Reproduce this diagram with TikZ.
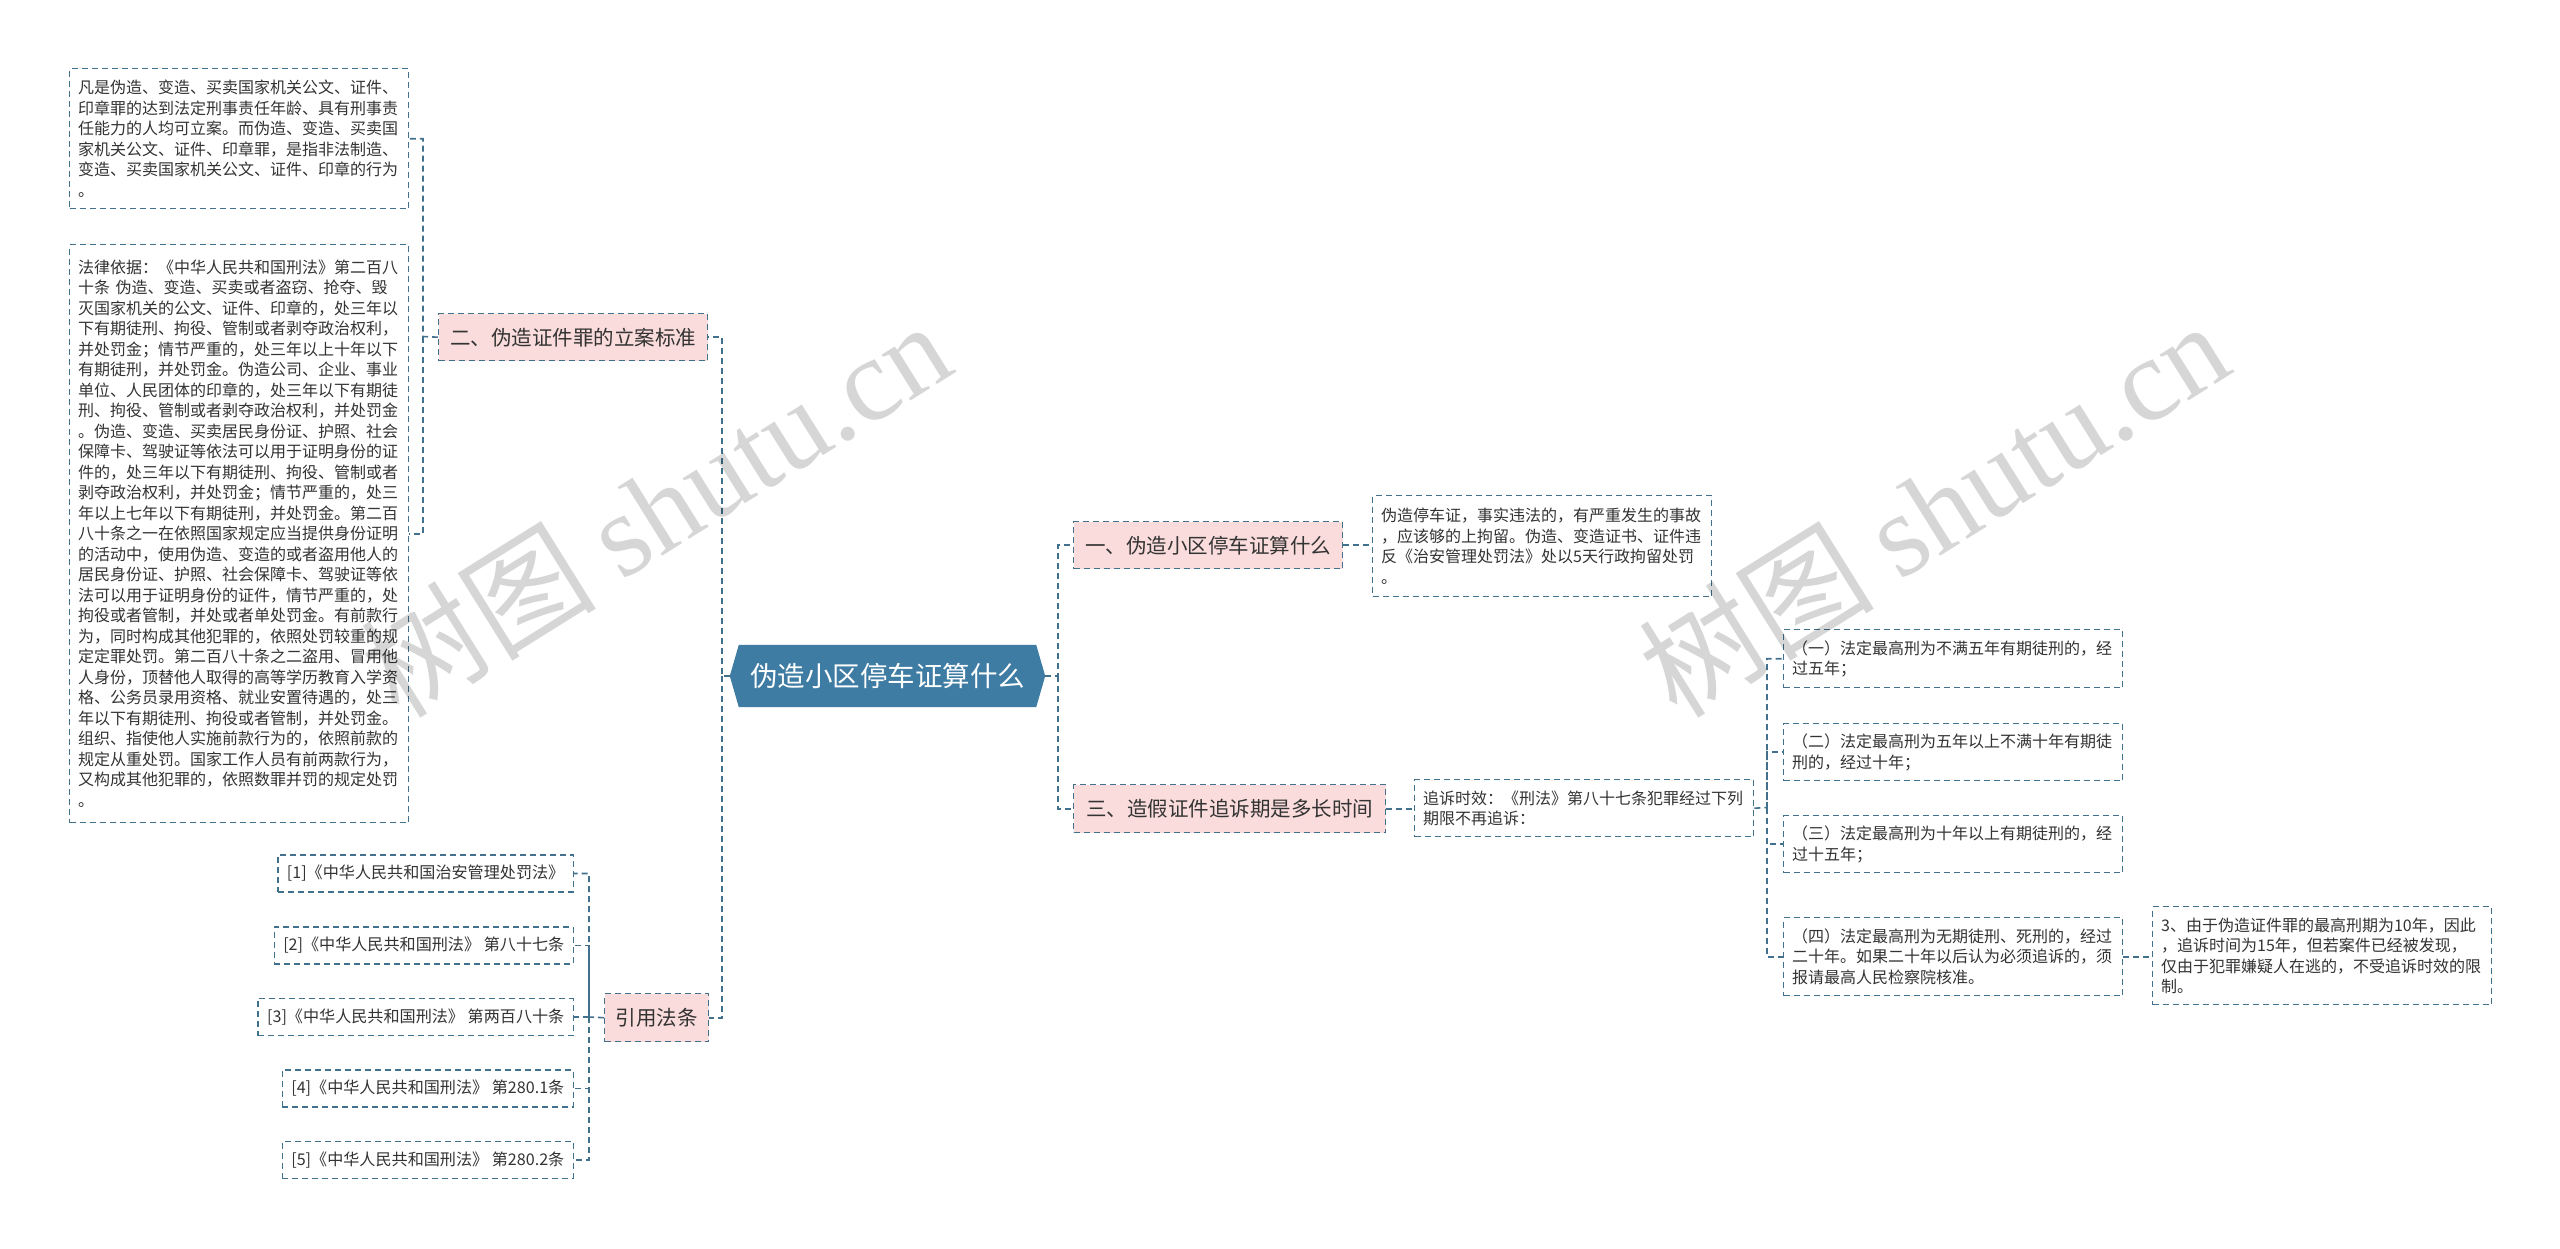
\documentclass[tikz,border=0pt]{standalone}
\usepackage{fontspec}
\setmainfont{Noto Sans CJK SC}
\newfontfamily\wmfont{Liberation Serif}
\definecolor{lineblue}{HTML}{41718C}
\definecolor{pinkfill}{HTML}{F9DCDB}
\definecolor{hexblue}{HTML}{3E7CA3}
\definecolor{txt}{HTML}{333333}
\pgfdeclarelayer{pagebg}
\pgfdeclarelayer{shapes}
\pgfsetlayers{pagebg,shapes,main}
\tikzset{
  conn/.style={draw=lineblue, line width=1.6pt, dash pattern=on 6pt off 4pt},
  mainconn/.style={conn, line width=2.2pt},
  tbox/.style={draw=lineblue, line width=1.4pt, dash pattern=on 6pt off 4pt, fill=white,
    text=txt, align=left, text width=322pt, inner xsep=8.5pt, inner ysep=0pt,
    anchor=north west, font=\fontsize{16}{20.5}\selectfont},
  lvl/.style={draw=lineblue, line width=1.4pt, dash pattern=on 6pt off 4pt, fill=pinkfill,
    text=txt, inner sep=0pt, anchor=north west, font=\fontsize{20.5}{24}\selectfont},
  refbox/.style={draw=lineblue, line width=1.4pt, dash pattern=on 6pt off 4pt, fill=white,
    text=txt, inner xsep=9pt, inner ysep=0pt, minimum height=37pt, anchor=east,
    font=\fontsize{16.1}{20}\selectfont},
  hexnode/.style={minimum width=315pt, minimum height=62pt, inner sep=0pt, text=white,
    font=\fontsize{27.5}{30}\selectfont},
  wm/.style={text=black, text opacity=0.16, inner sep=0pt, font=\fontsize{118}{120}\selectfont}
}
\begin{document}
\begin{tikzpicture}[x=1pt,y=-1pt]
\begin{pgfonlayer}{pagebg}
\fill[white] (0,0) rectangle (2560,1248);
\end{pgfonlayer}
\useasboundingbox (0,0) rectangle (2560,1248);

% central node
\node[hexnode] (hex) at (887.5,676) {伪造小区停车证算什么};
\begin{pgfonlayer}{shapes}
\fill[hexblue] (hex.west) -- ([xshift=9pt]hex.north west) -- ([xshift=-9pt]hex.north east)
  -- (hex.east) -- ([xshift=-9pt]hex.south east) -- ([xshift=9pt]hex.south west) -- cycle;
\end{pgfonlayer}

% level 1 nodes
\node[lvl, minimum width=269pt, minimum height=47pt] (n2) at (438,313) {二、伪造证件罪的立案标准};
\node[lvl, minimum width=104pt, minimum height=48pt] (yin) at (604,993) {引用法条};
\node[lvl, minimum width=269pt, minimum height=47pt] (n1) at (1073,521) {一、伪造小区停车证算什么};
\node[lvl, minimum width=312pt, minimum height=48pt] (n3) at (1073,784) {三、造假证件追诉期是多长时间};

% left text boxes
\node[tbox, minimum height=140pt] (b1) at (69,68) {凡是伪造、变造、买卖国家机关公文、证件、\\
印章罪的达到法定刑事责任年龄、具有刑事责\\
任能力的人均可立案。而伪造、变造、买卖国\\
家机关公文、证件、印章罪，是指非法制造、\\
变造、买卖国家机关公文、证件、印章的行为\\
。};
\node[tbox, minimum height=578pt] (b2) at (69,244) {法律依据：《中华人民共和国刑法》第二百八\\
十条 伪造、变造、买卖或者盗窃、抢夺、毁\\
灭国家机关的公文、证件、印章的，处三年以\\
下有期徒刑、拘役、管制或者剥夺政治权利，\\
并处罚金；情节严重的，处三年以上十年以下\\
有期徒刑，并处罚金。伪造公司、企业、事业\\
单位、人民团体的印章的，处三年以下有期徒\\
刑、拘役、管制或者剥夺政治权利，并处罚金\\
。伪造、变造、买卖居民身份证、护照、社会\\
保障卡、驾驶证等依法可以用于证明身份的证\\
件的，处三年以下有期徒刑、拘役、管制或者\\
剥夺政治权利，并处罚金；情节严重的，处三\\
年以上七年以下有期徒刑，并处罚金。第二百\\
八十条之一在依照国家规定应当提供身份证明\\
的活动中，使用伪造、变造的或者盗用他人的\\
居民身份证、护照、社会保障卡、驾驶证等依\\
法可以用于证明身份的证件，情节严重的，处\\
拘役或者管制，并处或者单处罚金。有前款行\\
为，同时构成其他犯罪的，依照处罚较重的规\\
定定罪处罚。第二百八十条之二盗用、冒用他\\
人身份，顶替他人取得的高等学历教育入学资\\
格、公务员录用资格、就业安置待遇的，处三\\
年以下有期徒刑、拘役或者管制，并处罚金。\\
组织、指使他人实施前款行为的，依照前款的\\
规定从重处罚。国家工作人员有前两款行为，\\
又构成其他犯罪的，依照数罪并罚的规定处罚\\
。};

% references
\node[refbox] (r1) at (574,873.5) {[1]《中华人民共和国治安管理处罚法》};
\node[refbox] (r2) at (574,945.5) {[2]《中华人民共和国刑法》 第八十七条};
\node[refbox] (r3) at (574,1017) {[3]《中华人民共和国刑法》 第两百八十条};
\node[refbox] (r4) at (574,1088.5) {[4]《中华人民共和国刑法》 第280.1条};
\node[refbox] (r5) at (574,1160) {[5]《中华人民共和国刑法》 第280.2条};

% right text boxes
\node[tbox, minimum height=101pt] (c1) at (1372,495) {伪造停车证，事实违法的，有严重发生的事故\\
，应该够的上拘留。伪造、变造证书、证件违\\
反《治安管理处罚法》处以5天行政拘留处罚\\
。};
\node[tbox, minimum height=57pt] (c3) at (1414,779) {追诉时效：《刑法》第八十七条犯罪经过下列\\
期限不再追诉：};
\node[tbox, minimum height=58pt] (d1) at (1783,629) {（一）法定最高刑为不满五年有期徒刑的，经\\
过五年；};
\node[tbox, minimum height=57pt] (d2) at (1783,723) {（二）法定最高刑为五年以上不满十年有期徒\\
刑的，经过十年；};
\node[tbox, minimum height=57pt] (d3) at (1783,815) {（三）法定最高刑为十年以上有期徒刑的，经\\
过十五年；};
\node[tbox, minimum height=78pt] (d4) at (1783,917) {（四）法定最高刑为无期徒刑、死刑的，经过\\
二十年。如果二十年以后认为必须追诉的，须\\
报请最高人民检察院核准。};
\node[tbox, minimum height=98pt] (e1) at (2152,906) {3、由于伪造证件罪的最高刑期为10年，因此\\
，追诉时间为15年，但若案件已经被发现，\\
仅由于犯罪嫌疑人在逃的，不受追诉时效的限\\
制。};

% connector junctions
\coordinate (lsp) at (722,676);
\coordinate (rsp) at (1058,676);
\coordinate (bx2) at (423,336.5);
\coordinate (byin) at (589,1017);
\coordinate (bc3) at (1767,807.5);

% main connectors
\draw[mainconn] (hex.west) -- (lsp) |- (n2.east);
\draw[mainconn] (lsp) |- (yin.east);
\draw[mainconn] (hex.east) -- (rsp) |- (n1.west);
\draw[mainconn] (rsp) |- (n3.west);

% branch connectors
\draw[conn] (n2.west) -- (bx2) |- (b1.east);
\draw[conn] (bx2) |- (b2.east);
\draw[conn] (yin.west) -- (byin) |- (r1.east);
\draw[conn] (byin) |- (r2.east);
\draw[conn] (byin) |- (r3.east);
\draw[conn] (byin) |- (r4.east);
\draw[conn] (byin) |- (r5.east);
\draw[conn] (n1.east) -- (n1.east -| c1.west);
\draw[conn] (n3.east) -- (n3.east -| c3.west);
\draw[conn] (c3.east) -- (bc3) |- (d1.west);
\draw[conn] (bc3) |- (d2.west);
\draw[conn] (bc3) |- (d3.west);
\draw[conn] (bc3) |- (d4.west);
\draw[conn] (d4.east) -- (d4.east -| e1.west);

% watermarks
\node[wm, rotate=32] (wm1) at (655,508) {树图 {\wmfont shutu.cn}};
\node[wm, rotate=32] (wm2) at (1933,508) {树图 {\wmfont shutu.cn}};
\end{tikzpicture}
\end{document}
